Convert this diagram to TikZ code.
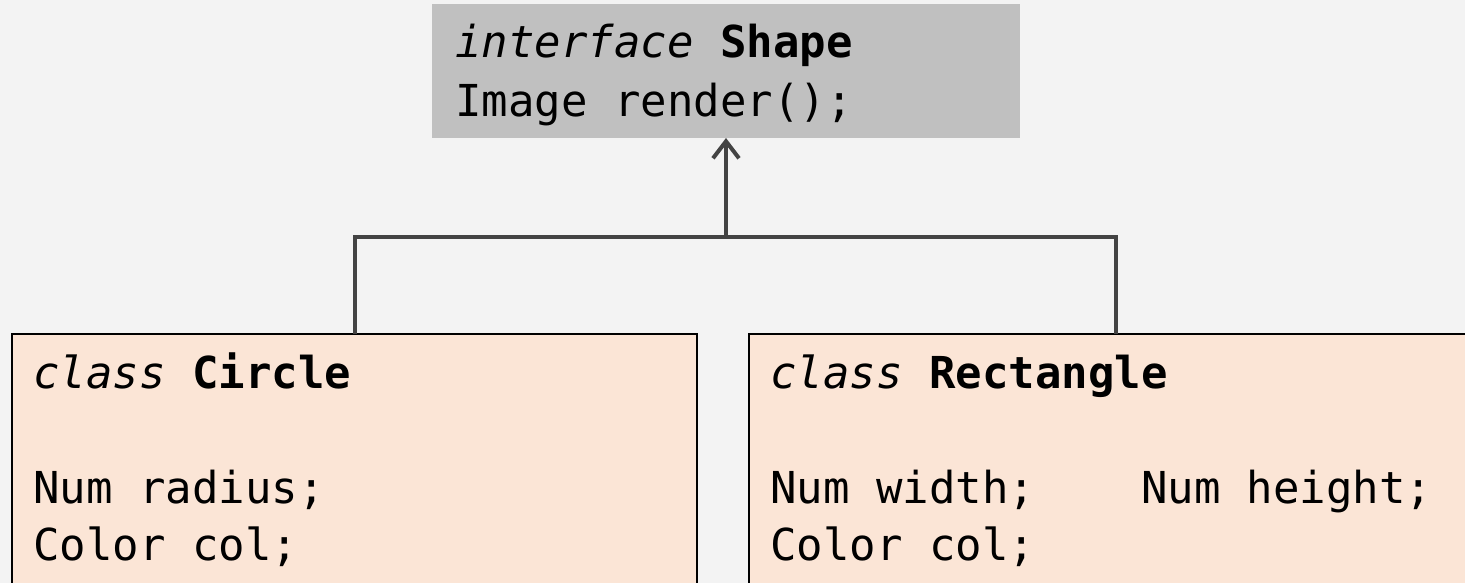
\documentclass[tikz,border=0pt]{standalone}
\usepackage{fontspec}
\setmonofont{DejaVu Sans Mono}
\usetikzlibrary{arrows.meta}
\definecolor{slidebg}{HTML}{F3F3F3}
\definecolor{ifacegray}{HTML}{C0C0C0}
\definecolor{classpeach}{HTML}{FBE5D6}
\definecolor{wiregray}{HTML}{434343}

\begin{document}
\begin{tikzpicture}[x=1pt, y=-1pt,
    >={Straight Barb[length=17pt,width=26pt]},
    iface/.style={fill=ifacegray, inner sep=0pt, outer sep=0pt, anchor=north west},
    cls/.style={fill=classpeach, draw=black, line width=2pt, inner sep=0pt, outer sep=0pt, anchor=north west},
    code/.style={anchor=base west, inner sep=0pt, font=\ttfamily\fontsize{44}{58}\selectfont},
    wire/.style={draw=wiregray, line width=4pt}]
  % slide
  \fill[slidebg] (0,0) rectangle (1465,583);
  \useasboundingbox (0,0) rectangle (1465,583);
  \clip (0,0) rectangle (1465,583);

  % interface
  \node[iface, minimum width=588pt, minimum height=134pt] (shape) at (432,4) {};
  \node[code] (shapename) at (455,58) {\textit{interface} \textbf{Shape}};
  \node[code] (shaperender) at (455,117) {Image render();};

  % implementing classes
  \node[cls, minimum width=685pt, minimum height=320pt] (circle) at (12,334) {};
  \node[code] (circlename) at (33,388) {\textit{class} \textbf{Circle}};
  \node[code] (circleradius) at (33,503) {Num radius;};
  \node[code] (circlecol) at (33,560) {Color col;};

  \node[cls, minimum width=734pt, minimum height=320pt] (rect) at (749,334) {};
  \node[code] (rectname) at (770,388) {\textit{class} \textbf{Rectangle}};
  \node[code] (rectsize) at (770,503) {Num width;\phantom{000} Num height;};
  \node[code] (rectcol) at (770,560) {Color col;};

  % inheritance arrow
  \path (shape.south) ++(0,99) coordinate (joint);
  \draw[wire] (circle.north) |- (joint) -| (rect.north);
  \draw[wire, ->] (joint) -- (shape.south);
\end{tikzpicture}
\end{document}
